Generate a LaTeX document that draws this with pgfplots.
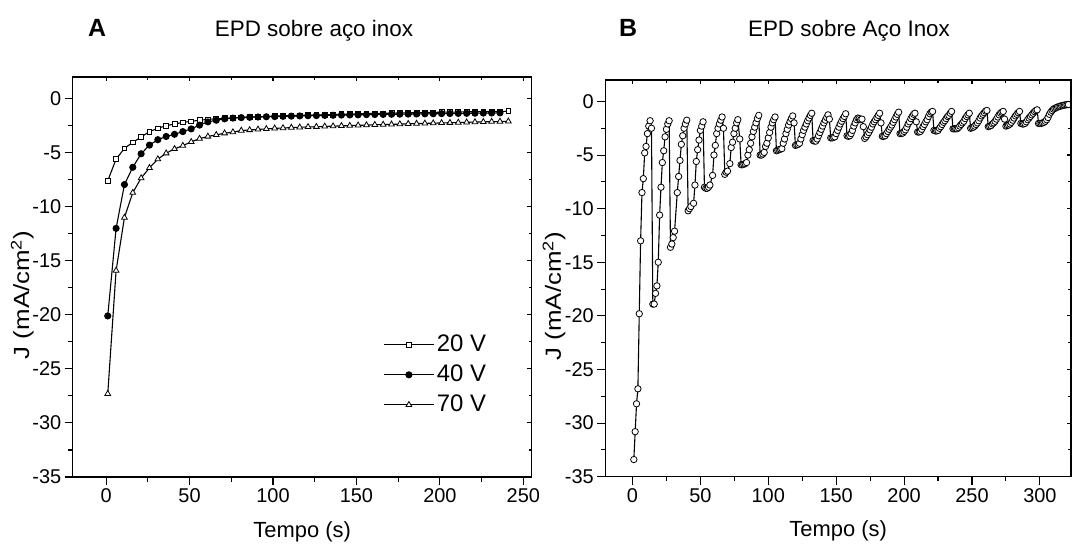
\documentclass[border=0pt]{standalone}
\usepackage{fontspec}
\setmainfont{Liberation Sans}
\usepackage{pgfplots}
\pgfplotsset{compat=1.18}
\newcommand{\ylab}{\scalebox{1.18}[1]{J (mA/cm\textsuperscript{2})}}
\pgfplotsset{
  common/.style={
    scale only axis,
    ymin=-35, ymax=2,
    ytick={-35,-30,-25,-20,-15,-10,-5,0},
    minor x tick num=1, minor y tick num=1,
    axis line style={line width=1.3bp},
    tick style={black, line width=1.1bp},
    /pgf/number format/assume math mode=true,
    tick label style={font=\fontsize{20}{23}\selectfont},
    label style={font=\fontsize{22}{26}\selectfont},
  },
  mainaxis/.style={common,
    tick align=outside, major tick length=8bp, minor tick length=4.5bp,
    xtick pos=left, ytick pos=left},
  tickaxis/.style={common,
    tick align=inside, major tick length=4.5bp, minor tick length=3bp,
    xtick pos=right, ytick pos=right, xticklabels={}, yticklabels={}},
}
\begin{document}
\begin{tikzpicture}
\useasboundingbox (0,0) rectangle (1072bp,544bp);
% titles
\node[font=\bfseries\fontsize{25}{29}\selectfont, anchor=base] at (97bp,507bp) {A};
\node[font=\fontsize{22.5}{27}\selectfont, anchor=base] at (314bp,507bp) {EPD sobre aço inox};
\node[font=\bfseries\fontsize{25}{29}\selectfont, anchor=base] at (628bp,507bp) {B};
\node[font=\fontsize{22.5}{27}\selectfont, anchor=base] at (849bp,507bp) {EPD sobre Aço Inox};
% ---------- Panel A ----------
\begin{axis}[mainaxis, at={(72.7bp,67bp)}, anchor=south west,
  width=459bp, height=400bp, xmin=-20, xmax=255,
  xtick={0,50,100,150,200,250},
  xlabel={Tempo (s)}, ylabel={\ylab},
  xlabel style={at={(axis description cs:0.5,-0.1375)}, anchor=center},
  ylabel style={at={(axis description cs:-0.11,0.455)}, anchor=center},
  legend style={at={(axis cs:166,-21.6)}, anchor=north west, draw=none, fill=none,
    inner sep=0pt, font=\fontsize{24}{28}\selectfont, row sep=5bp,
    nodes={inner sep=2.5bp, text height=17bp, text depth=3bp}},
  legend cell align=left,
  legend image code/.code={\draw[mark repeat=2,mark phase=2] plot coordinates {(0bp,0bp)(25bp,0bp)(50bp,0bp)};},
]
\addplot[black, line width=1.1bp, mark=square*, mark size=2.4bp, mark options={fill=white, line width=0.8bp}] coordinates {
(1,-7.6)(6,-5.6)(11,-4.6)(16,-4.05)(21,-3.55)(26,-3.05)(31,-2.75)(36,-2.5)(41,-2.35)(46,-2.2)
(51,-2.1)(56,-2.0)(61,-1.92)(66,-1.87)(71,-1.82)(76,-1.78)(81,-1.74)(86,-1.71)(91,-1.68)(96,-1.65)
(101,-1.62)(106,-1.6)(111,-1.57)(116,-1.55)(121,-1.53)(126,-1.51)(131,-1.49)(136,-1.47)(141,-1.45)(146,-1.43)
(151,-1.41)(156,-1.39)(161,-1.37)(166,-1.36)(171,-1.34)(176,-1.33)(181,-1.31)(186,-1.3)(191,-1.28)(196,-1.27)
(201,-1.26)(206,-1.25)(211,-1.24)(216,-1.22)(221,-1.21)(226,-1.2)(231,-1.19)(236,-1.18)(241,-1.17)};
\addlegendentry{20 V}
\addplot[black, line width=1.1bp, mark=*, mark size=3bp, mark options={fill=black}] coordinates {
(1,-20.1)(6,-12.0)(11,-7.95)(16,-6.35)(21,-5.1)(26,-4.3)(31,-3.8)(36,-3.5)(41,-3.3)(46,-3.05)
(51,-2.8)(56,-2.45)(61,-2.15)(66,-2.0)(71,-1.87)(76,-1.8)(81,-1.76)(86,-1.73)(91,-1.7)(96,-1.68)
(101,-1.66)(106,-1.64)(111,-1.62)(116,-1.6)(121,-1.58)(126,-1.57)(131,-1.55)(136,-1.54)(141,-1.52)(146,-1.51)
(151,-1.5)(156,-1.48)(161,-1.47)(166,-1.46)(171,-1.45)(176,-1.44)(181,-1.43)(186,-1.42)(191,-1.41)(196,-1.4)
(201,-1.39)(206,-1.38)(211,-1.37)(216,-1.36)(221,-1.35)(226,-1.34)(231,-1.33)(236,-1.32)};
\addlegendentry{40 V}
\addplot[black, line width=1.1bp, mark=triangle*, mark size=3.3bp, mark options={fill=white, line width=0.8bp}] coordinates {
(1,-27.3)(6,-15.9)(11,-11.0)(16,-8.7)(21,-7.35)(26,-6.4)(31,-5.6)(36,-5.05)(41,-4.65)(46,-4.35)
(51,-4.0)(56,-3.7)(61,-3.5)(66,-3.35)(71,-3.2)(76,-3.1)(81,-2.95)(86,-2.9)(91,-2.85)(96,-2.8)
(101,-2.75)(106,-2.72)(111,-2.68)(116,-2.65)(121,-2.62)(126,-2.6)(131,-2.57)(136,-2.55)(141,-2.52)(146,-2.5)
(151,-2.47)(156,-2.45)(161,-2.42)(166,-2.4)(171,-2.38)(176,-2.36)(181,-2.33)(186,-2.31)(191,-2.29)(196,-2.27)
(201,-2.25)(206,-2.23)(211,-2.21)(216,-2.19)(221,-2.17)(226,-2.15)(231,-2.13)(236,-2.12)(241,-2.1)};
\addlegendentry{70 V}
\end{axis}
\begin{axis}[tickaxis, at={(72.7bp,67bp)}, anchor=south west,
  width=459bp, height=400bp, xmin=-20, xmax=255, xtick={0,50,100,150,200,250}]
\end{axis}
% ---------- Panel B ----------
\begin{axis}[mainaxis, at={(605.3bp,67.3bp)}, anchor=south west,
  width=465.8bp, height=396.7bp, xmin=-20, xmax=323,
  xtick={0,50,100,150,200,250,300},
  xlabel={Tempo (s)}, ylabel={\ylab},
  xlabel style={at={(axis description cs:0.5,-0.1375)}, anchor=center},
  ylabel style={at={(axis description cs:-0.11,0.455)}, anchor=center},
]
\addplot[black, line width=1.1bp, mark=*, mark size=3.2bp, mark options={fill=white, line width=0.8bp}] coordinates {
(1,-33.4)(2,-30.8)(3,-28.2)(4,-26.8)(5,-19.8)(6,-13.0)(7,-8.5)(8,-7.2)(9,-4.8)(10,-4.2)(11,-3.0)(12,-2.3)(13,-1.8)(14,-2.5)
(15,-18.9)(16,-18.9)(17,-17.9)(18,-17.2)(19,-15.0)(20,-10.6)(21,-8.0)(22,-5.7)(23,-4.6)(24,-3.3)(25,-2.6)(26,-2.1)(27,-1.8)
(28,-13.6)(29,-13.3)(30,-12.7)(31,-12.1)(33,-8.5)(34,-7.0)(35,-5.5)(36,-4.0)(37,-3.2)(38,-2.5)(39,-2.1)(40,-1.75)
(41,-10.2)(42,-10.0)(43,-9.8)(45,-9.5)(46,-7.8)(47,-5.6)(48,-4.5)(49,-3.6)(50,-2.7)(51,-2.3)(52,-1.9)
(53,-8.0)(54,-8.1)(55,-8.1)(56,-8.0)(57,-7.8)(59,-6.9)(60,-5.0)(61,-4.1)(62,-3.0)(63,-2.5)(64,-2.1)(65,-1.75)(66,-1.45)(67,-2.5)
(68,-6.8)(69,-6.6)(70,-6.5)(71.7,-5.8)(72.7,-4.3)(73.7,-3.8)(74.7,-3.0)(75.7,-2.5)(76.7,-2.0)(77.6,-1.7)(79,-3.5)
(80,-5.9)(81,-5.9)(82,-5.85)(83,-5.8)(84,-5.7)(85,-5.0)(86,-4.5)(87,-3.9)(88,-3.3)(89,-2.8)(90,-2.4)(91,-2.0)(92,-1.6)(93,-1.3)
(94,-5.0)(95,-5.0)(96,-4.9)(97,-4.75)(98,-4.2)(99,-3.9)(100,-3.4)(101,-2.9)(102,-2.4)(103,-2.0)(104,-1.7)(105,-1.45)
(106,-4.6)(107,-4.55)(108,-4.5)(109,-4.45)(110,-4.4)(111,-3.9)(112,-3.5)(113,-3.0)(114,-2.6)(115,-2.2)(116,-1.9)(117,-1.6)(118,-1.35)(119,-2.0)
(120,-4.1)(121,-4.05)(122,-4.0)(123,-3.9)(124,-3.5)(125,-3.1)(126,-2.7)(127,-2.4)(128,-2.1)(129,-1.8)(130,-1.55)(131,-1.3)(132,-1.1)
(133,-3.65)(134,-3.7)(135,-3.7)(136,-3.5)(137,-3.2)(138,-2.9)(139,-2.6)(140,-2.3)(141,-2.0)(142,-1.75)(143,-1.5)(144,-1.25)(145,-1.65)
(146,-3.4)(147,-3.4)(148,-3.35)(149,-3.3)(150,-3.0)(151,-2.7)(152,-2.4)(153,-2.1)(154,-1.85)(155,-1.6)(156,-1.4)(157,-1.15)
(158,-3.2)(159,-3.25)(160,-3.2)(161,-3.0)(162,-2.7)(163,-2.3)(164,-2.0)(165,-1.7)(166,-1.55)(167,-1.6)(168,-1.7)(169,-1.65)(170,-2.35)
(171,-3.45)(172,-3.3)(173,-3.1)(174,-2.9)(175,-2.65)(176,-2.4)(177,-2.1)(178,-1.9)(179,-1.7)(180,-1.5)(181,-1.3)(182,-1.1)(183,-2.0)
(184,-3.25)(185,-3.25)(186,-3.2)(187,-3.0)(188,-2.8)(189,-2.6)(190,-2.4)(191,-2.2)(192,-1.95)(193,-1.7)(194,-1.45)(195,-1.2)(196,-1.0)
(197,-3.0)(198,-3.0)(199,-2.95)(200,-2.8)(201,-2.65)(202,-2.4)(203,-2.1)(204,-1.9)(205,-1.6)(206,-1.4)(207,-1.2)(208,-1.1)(209,-1.9)
(210,-2.85)(211,-2.85)(212,-2.8)(213,-2.6)(214,-2.35)(215,-2.15)(216,-1.9)(217,-1.7)(218,-1.4)(219,-1.15)(220,-1.0)(221,-0.93)
(222,-2.7)(223,-2.75)(224,-2.75)(225,-2.7)(226,-2.5)(227,-2.35)(228,-2.15)(229,-1.95)(230,-1.8)(231,-1.6)(232,-1.4)(233,-1.3)(234,-1.1)(235,-0.93)
(236,-2.55)(237,-2.55)(238,-2.55)(239,-2.55)(240,-2.45)(241,-2.3)(242,-2.15)(243,-2.0)(244,-1.85)(245,-1.6)(246,-1.4)(247,-1.25)(248,-1.1)
(249,-2.5)(250,-2.45)(251,-2.4)(252,-2.3)(253,-2.15)(254,-2.0)(255,-1.8)(256,-1.55)(257,-1.35)(258,-1.2)(259,-1.05)(260,-0.9)(261,-0.84)
(262,-2.35)(263,-2.3)(264,-2.25)(265,-2.1)(266,-2.0)(267,-1.85)(268,-1.65)(269,-1.45)(270,-1.25)(271,-1.1)(272,-1.0)(273,-0.93)(274,-1.65)
(275,-2.3)(276,-2.25)(277,-2.2)(278,-2.1)(279,-1.95)(280,-1.75)(281,-1.55)(282,-1.35)(283,-1.2)(284,-1.05)(285,-0.93)
(286,-2.05)(287,-2.1)(288,-2.1)(289,-2.05)(290,-1.9)(291,-1.7)(292,-1.55)(293,-1.4)(294,-1.25)(295,-1.1)(296,-0.95)(297,-0.85)(298,-0.78)
(299,-2.05)(300,-2.05)(301,-2.05)(302,-2.0)(303,-1.95)(304,-1.85)(305,-1.7)(306,-1.5)(307,-1.2)(308,-1.0)(309,-0.85)(310,-0.72)
(311,-0.65)(312,-0.58)(313,-0.52)(314,-0.48)(315,-0.44)(316,-0.4)(317,-0.37)(318,-0.34)(319,-0.32)(320,-0.3)(321,-0.29)};
\end{axis}
\begin{axis}[tickaxis, at={(605.3bp,67.3bp)}, anchor=south west,
  width=465.8bp, height=396.7bp, xmin=-20, xmax=323, xtick={0,50,100,150,200,250,300}]
\end{axis}
\end{tikzpicture}
\end{document}
